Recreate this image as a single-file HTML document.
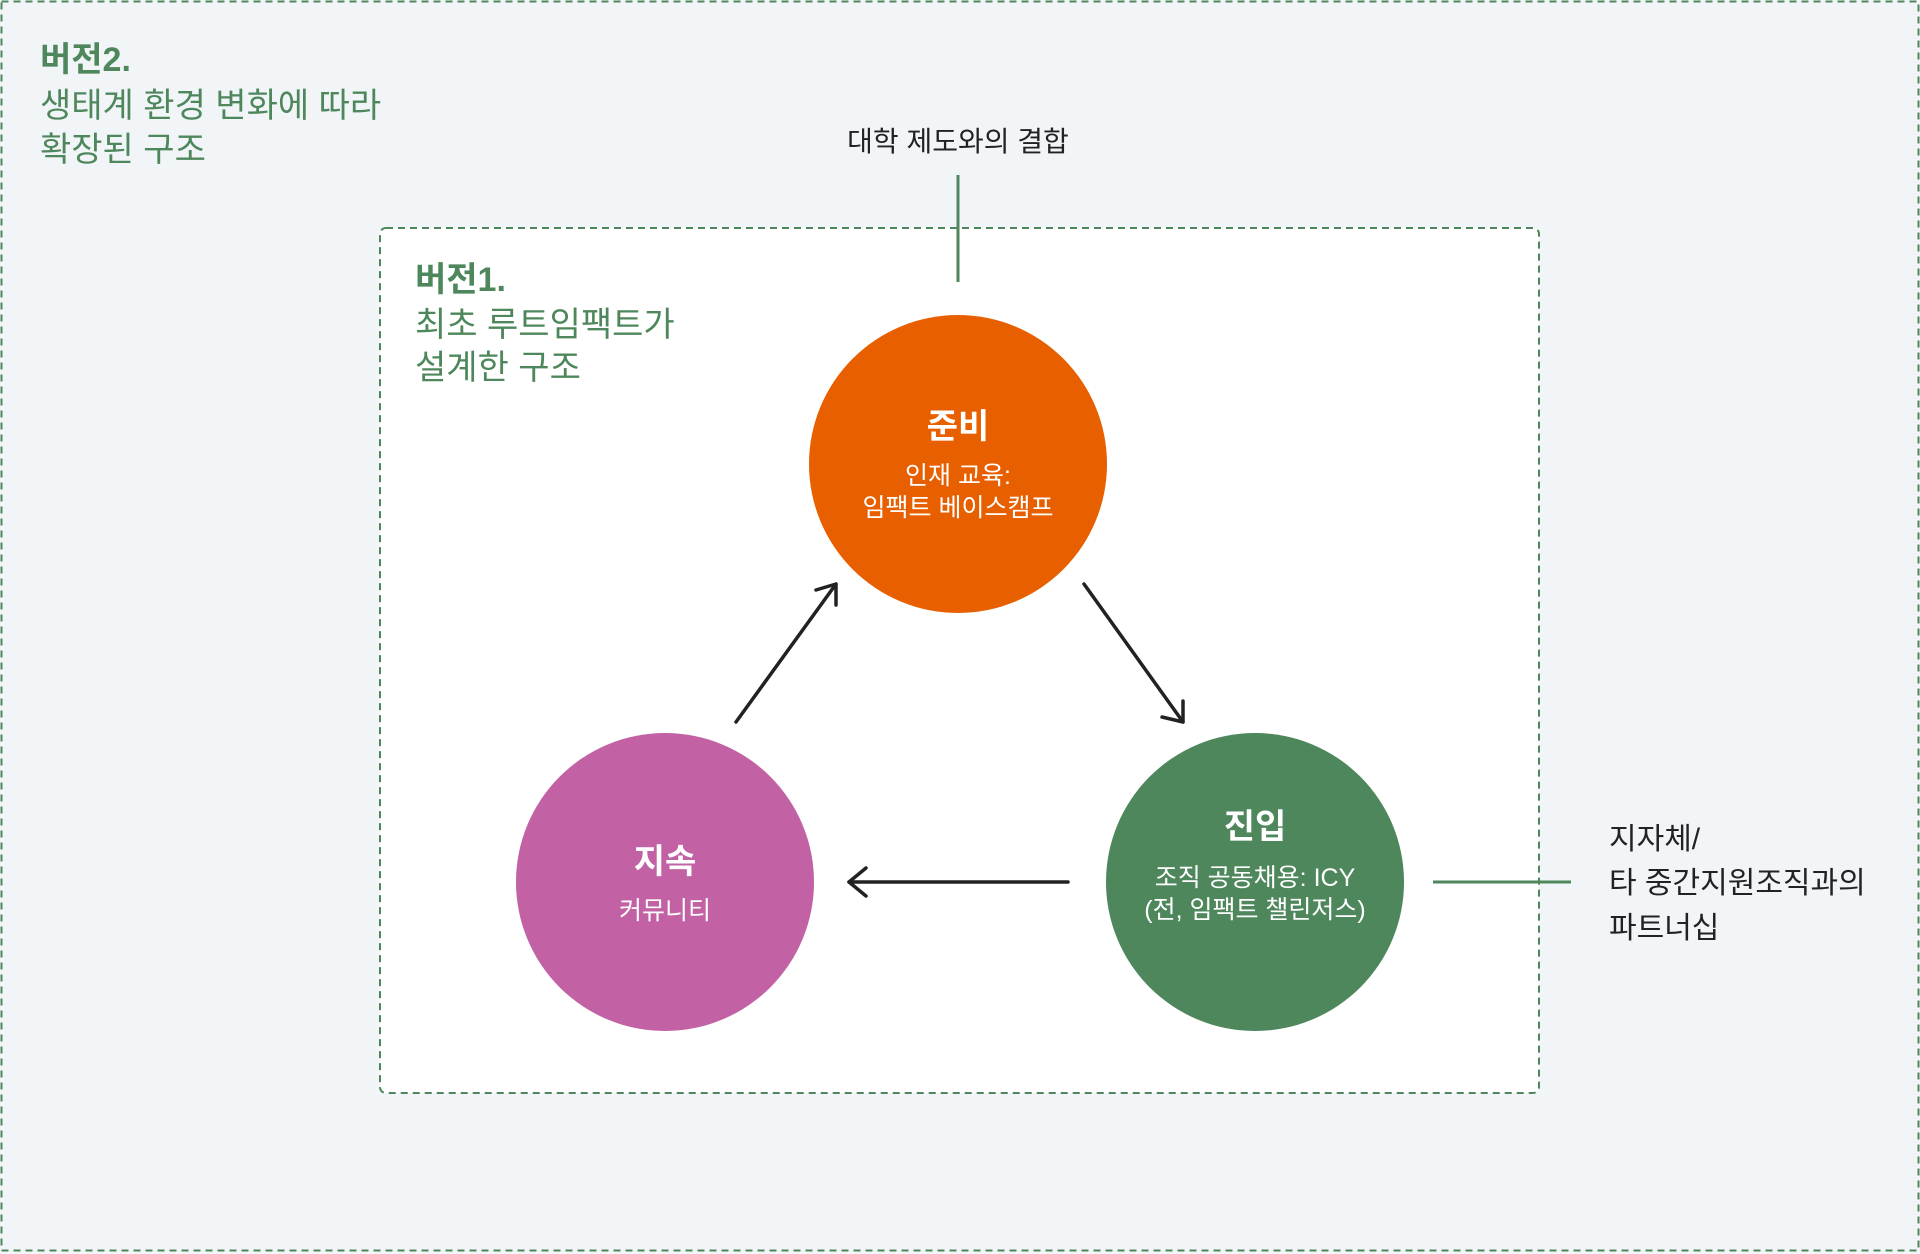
<!DOCTYPE html>
<html><head><meta charset="utf-8"><style>
html,body{margin:0;padding:0;background:#f1f5f8;}
svg{display:block;}
text{font-family:"Liberation Sans","Noto Sans CJK KR",sans-serif;}
</style></head><body>
<svg width="1920" height="1254" viewBox="0 0 1920 1254" xmlns="http://www.w3.org/2000/svg">
<rect x="1.5" y="1.5" width="1917" height="1249" fill="#f1f5f8" stroke="#4e875c" stroke-width="2" stroke-dasharray="7,5"/>
<rect x="380" y="228" width="1159" height="865" rx="6" fill="#ffffff" stroke="#4e875c" stroke-width="2" stroke-dasharray="7,5"/>
<g fill="#4e875c" font-size="34">
<text x="40" y="71" font-weight="bold">버전2.</text>
<text x="40" y="117">생태계 환경 변화에 따라</text>
<text x="40" y="161">확장된 구조</text>
<text x="415" y="291" font-weight="bold">버전1.</text>
<text x="415" y="336">최초 루트임팩트가</text>
<text x="415" y="379">설계한 구조</text>
</g>
<line x1="958" y1="175" x2="958" y2="282" stroke="#4e875c" stroke-width="3"/>
<line x1="1433" y1="882" x2="1571" y2="882" stroke="#4e875c" stroke-width="3"/>
<g fill="#222">
<text x="958" y="151" text-anchor="middle" font-size="28">대학 제도와의 결합</text>
<text x="1609" y="849" font-size="30">지자체/</text>
<text x="1609" y="893" font-size="30">타 중간지원조직과의</text>
<text x="1609" y="938" font-size="30">파트너십</text>
</g>
<circle cx="958" cy="464" r="149" fill="#e85f00"/>
<circle cx="1255" cy="882" r="149" fill="#4e875c"/>
<circle cx="665" cy="882" r="149" fill="#c262a4"/>
<g fill="#fff" text-anchor="middle">
<text x="958" y="438" font-size="34" font-weight="bold">준비</text>
<text x="958" y="484" font-size="25">인재 교육:</text>
<text x="958" y="516" font-size="25">임팩트 베이스캠프</text>
<text x="1255" y="838" font-size="34" font-weight="bold">진입</text>
<text x="1255" y="886" font-size="25">조직 공동채용: ICY</text>
<text x="1255" y="918" font-size="25">(전, 임팩트 챌린저스)</text>
<text x="665" y="873" font-size="34" font-weight="bold">지속</text>
<text x="665" y="919" font-size="25">커뮤니티</text>
</g>
<g stroke="#222" stroke-width="3.5" fill="none" stroke-linecap="round" stroke-linejoin="round">
<line x1="736" y1="722" x2="836" y2="584"/>
<polyline points="816,590 836,584 836,605"/>
<line x1="1084" y1="584" x2="1183" y2="722"/>
<polyline points="1162,717 1183,722 1183,701"/>
<line x1="1068" y1="882" x2="849" y2="882"/>
<polyline points="866,868 849,882 866,896"/>
</g>
</svg>
</body></html>
